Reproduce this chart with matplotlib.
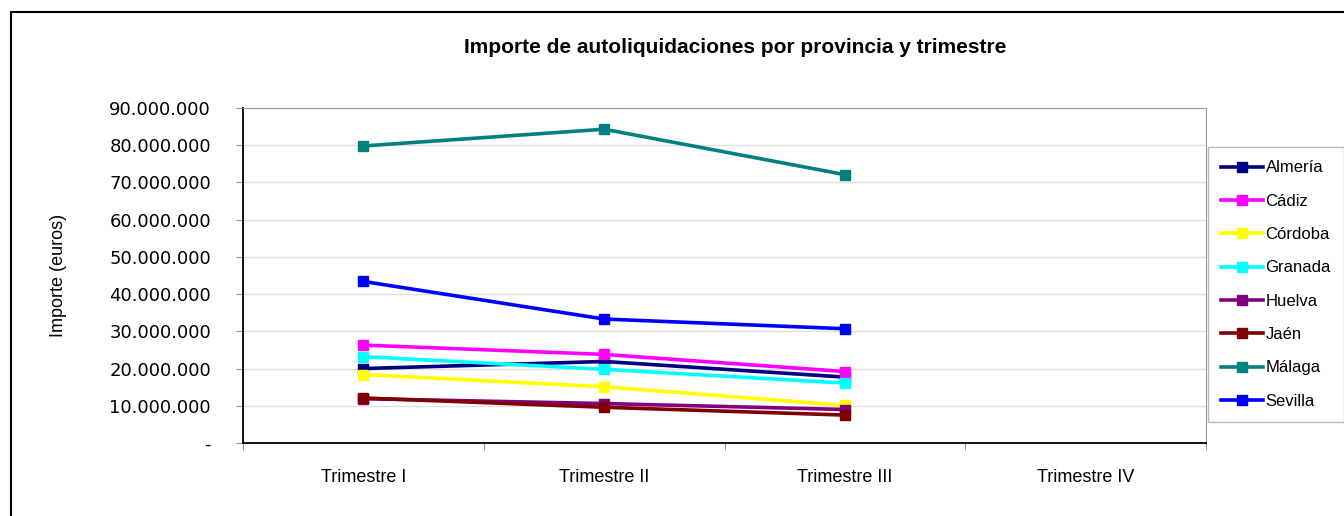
import numpy as np
import matplotlib.pyplot as plt
from matplotlib.patches import Rectangle
from matplotlib.ticker import FuncFormatter

# Quarter labels and values per province (euros); Trimestre IV has no data yet
quarters = ['Trimestre I', 'Trimestre II', 'Trimestre III', 'Trimestre IV']
provinces = ['Almería', 'Cádiz', 'Córdoba', 'Granada', 'Huelva', 'Jaén', 'Málaga', 'Sevilla']
almeria = [20.0e6, 21.9e6, 17.7e6, np.nan]
cadiz = [26.3e6, 23.8e6, 19.2e6, np.nan]
cordoba = [18.4e6, 15.1e6, 10.1e6, np.nan]
granada = [23.2e6, 19.8e6, 16.1e6, np.nan]
huelva = [11.9e6, 10.6e6, 9.0e6, np.nan]
jaen = [12.1e6, 9.6e6, 7.5e6, np.nan]
malaga = [79.8e6, 84.3e6, 72.1e6, np.nan]
sevilla = [43.4e6, 33.3e6, 30.7e6, np.nan]
colors = ['#000080', '#FF00FF', '#FFFF00', '#00FFFF', '#800080', '#800000', '#008080', '#0000FF']

series = [almeria, cadiz, cordoba, granada, huelva, jaen, malaga, sevilla]

narrow = 'Liberation Sans'

fig = plt.figure(figsize=(13.44, 5.16), dpi=100)
W, H = 1344, 516

# outer chart frame (cut off at right and bottom like the reference)
fig.patches.append(Rectangle((11 / W, -0.05), 1.2, (516 - 12) / H + 0.05,
                             transform=fig.transFigure, fill=False,
                             edgecolor='black', linewidth=1.5))

ax = fig.add_axes([243 / W, (H - 443) / H, (1206 - 243) / W, (443 - 108) / H])

x = np.arange(len(quarters))
for name, vals, c in zip(provinces, series, colors):
    ax.plot(x, vals, color=c, linewidth=2.6, marker='s', markersize=7.5,
            label=name, zorder=3)

ax.set_xlim(-0.5, len(quarters) - 0.5)
ax.set_ylim(0, 90e6)
ax.set_yticks(np.arange(0, 90e6 + 1, 10e6))


def fmt(v, pos):
    if v == 0:
        return '-'
    return f'{int(v):,}'.replace(',', '.')


ax.yaxis.set_major_formatter(FuncFormatter(fmt))
ax.grid(axis='y', color='#e0e0e0', linewidth=1)
ax.set_axisbelow(True)

ax.set_xticks(np.arange(-0.5, len(quarters)), minor=False)
ax.set_xticklabels([])
ax.set_xticks(x, minor=True)
ax.set_xticklabels(quarters, minor=True, fontsize=13, family=narrow)
ax.tick_params(axis='x', which='minor', length=0, pad=19)
ax.tick_params(axis='x', which='major', length=5, color='#999999')
ax.tick_params(axis='y', length=5, color='#999999', labelsize=13, pad=18)

for lab in ax.get_yticklabels():
    lab.set_family('DejaVu Sans')

ax.spines['left'].set_color('black')
ax.spines['bottom'].set_color('black')
ax.spines['left'].set_linewidth(1.3)
ax.spines['bottom'].set_linewidth(1.3)
ax.spines['top'].set_color('#999999')
ax.spines['right'].set_color('#999999')

ax.set_ylabel('Importe (euros)', fontsize=13, family=narrow)
ax.yaxis.set_label_coords(-0.183, 0.5)

fig.text(735 / W, 1 - 48 / H, 'Importe de autoliquidaciones por provincia y trimestre',
         ha='center', va='center', fontsize=15, fontweight='heavy', family=narrow)

leg = fig.legend(loc='upper left', bbox_to_anchor=(1208 / W, 1 - 147 / H),
                 frameon=True, fancybox=False,
                 prop={'family': narrow, 'size': 12},
                 handlelength=2.5, handletextpad=0.15, labelspacing=1.1,
                 borderpad=0.8, borderaxespad=0)
leg.get_frame().set_edgecolor('#aaaaaa')
leg.get_frame().set_linewidth(1)

fig.savefig('out.png', dpi=100)
